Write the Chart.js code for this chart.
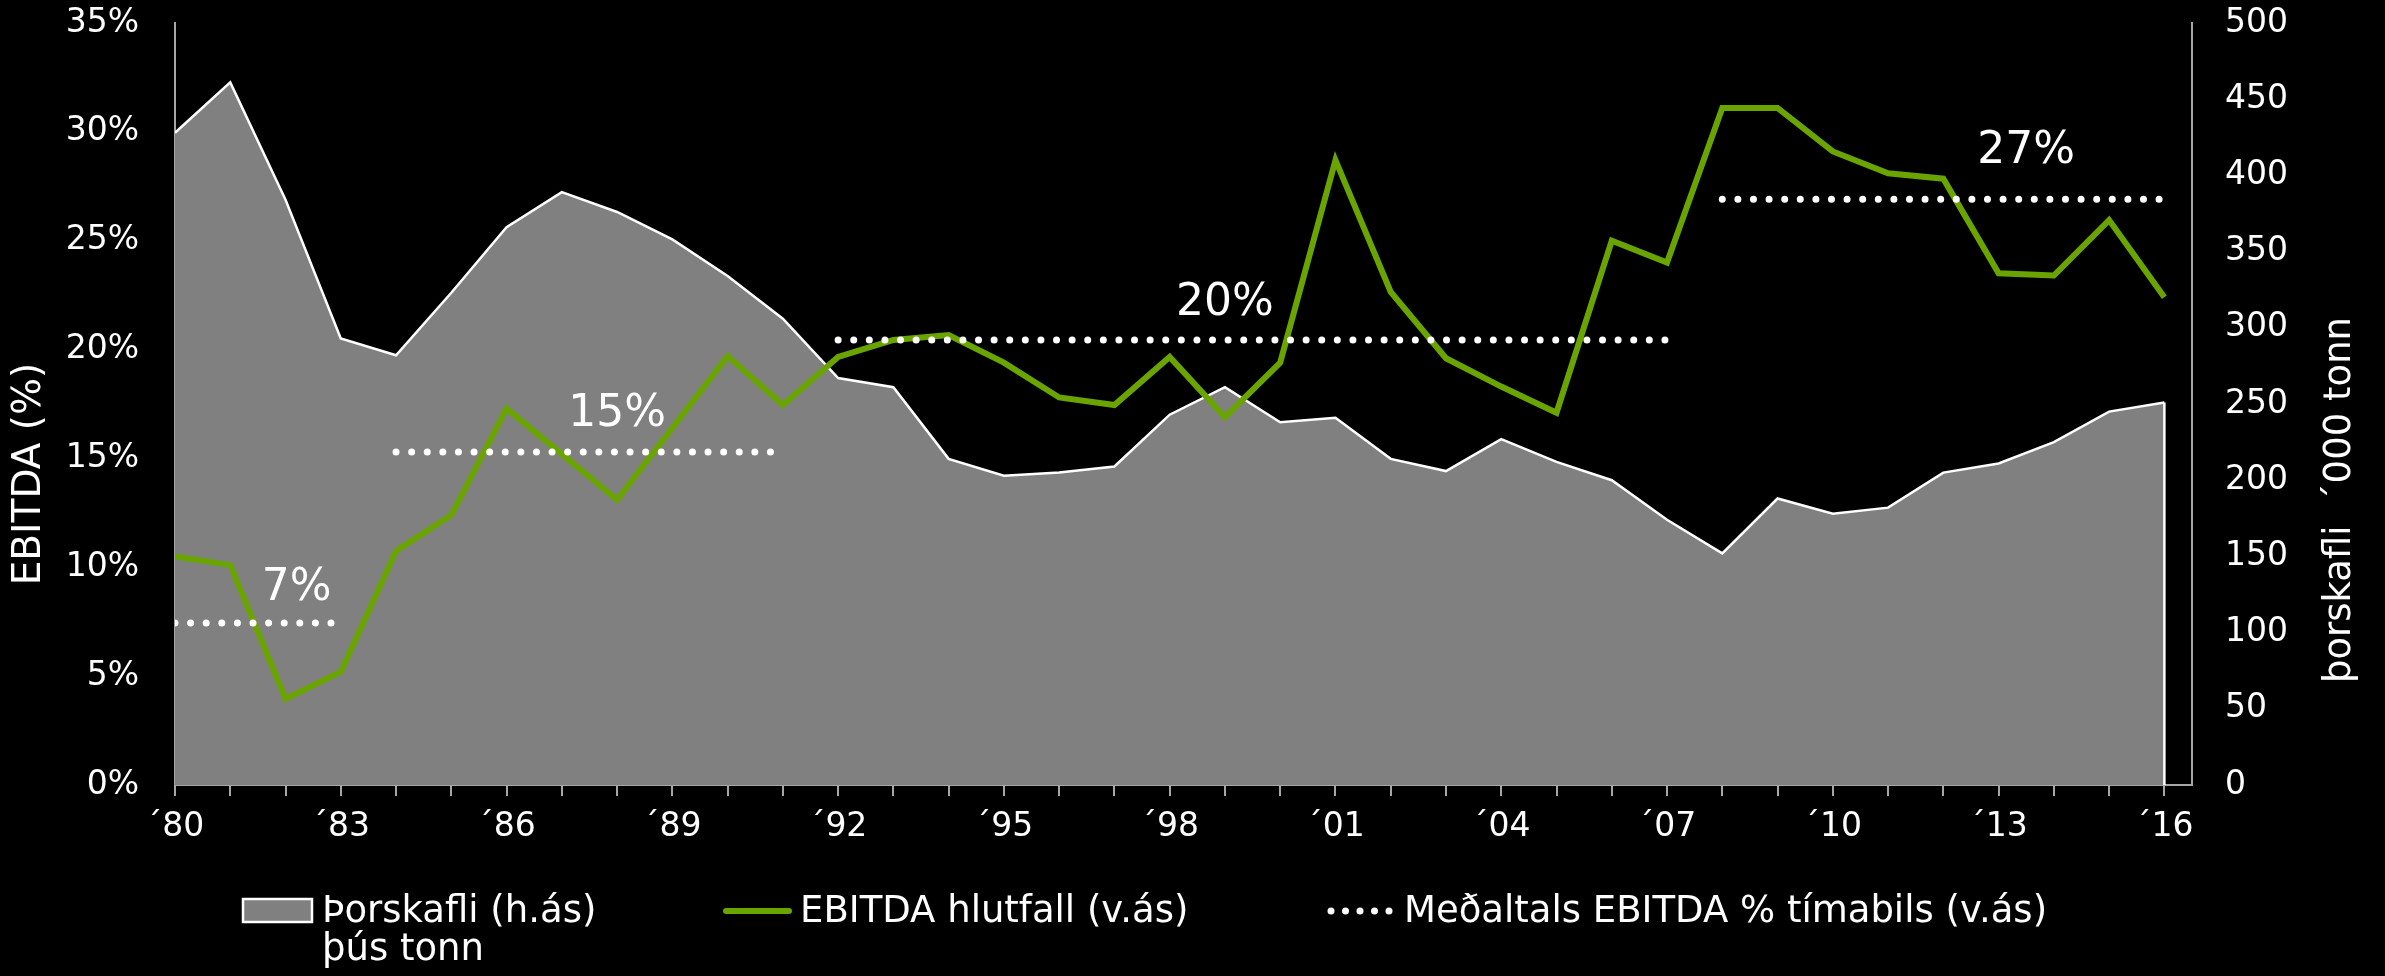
<!DOCTYPE html>
<html>
<head>
<meta charset="utf-8">
<script src="https://cdn.jsdelivr.net/npm/chart.js@4.4.0/dist/chart.umd.min.js"></script>
<style>
  html, body { margin: 0; padding: 0; background: #000; }
  #wrap { width: 2385px; height: 976px; }
</style>
</head>
<body>
<div id="wrap"><canvas id="ebitdaChart" width="2385" height="976"></canvas></div>
<script>
// data
const years = [1980, 1981, 1982, 1983, 1984, 1985, 1986, 1987, 1988, 1989,
  1990, 1991, 1992, 1993, 1994, 1995, 1996, 1997, 1998, 1999,
  2000, 2001, 2002, 2003, 2004, 2005, 2006, 2007, 2008, 2009,
  2010, 2011, 2012, 2013, 2014, 2015, 2016];

// Þorskafli, þús tonn (right axis)
const codCatch = [428, 461, 384, 293, 282, 323, 366, 389, 376, 358,
  334, 306, 267, 261, 214, 203, 205, 209, 243, 261,
  238, 241, 214, 206, 227, 212, 200, 174, 152, 188,
  178, 182, 205, 211, 225, 245, 251];

// EBITDA hlutfall, % (left axis)
const ebitda = [10.5, 10.1, 3.95, 5.2, 10.75, 12.4, 17.3, 15.2, 13.1, 16.4,
  19.7, 17.45, 19.66, 20.44, 20.67, 19.4, 17.8, 17.45, 19.66, 16.9,
  19.4, 28.7, 22.65, 19.6, 18.3, 17.1, 25.0, 24.0, 31.1, 31.1,
  29.1, 28.1, 27.85, 23.5, 23.4, 25.95, 22.4];

// Meðaltals EBITDA % tímabils
const periodStart = [1980, 1984, 1992, 2008];
const periodEnd = [1983, 1991, 2007, 2016];
const periodAvg = [7.44, 15.3, 20.44, 26.9];
const periodLabels = ['7%', '15%', '20%', '27%'];

const xTickYears = [1980, 1983, 1986, 1989, 1992, 1995, 1998, 2001, 2004, 2007, 2010, 2013, 2016];
const xTickLabels = ['´80', '´83', '´86', '´89', '´92', '´95', '´98', '´01', '´04', '´07', '´10', '´13', '´16'];

const FONT = '"DejaVu Sans", Verdana, sans-serif';
const GREEN = '#6aa400';
const GREY = '#808080';
const AXIS = '#a6a6a6';

Chart.defaults.font.family = FONT;
Chart.defaults.color = '#ffffff';

const pts = (vals) => years.map((yr, i) => ({ x: yr, y: vals[i] }));

const avgSets = periodAvg.map((v, i) => ({
  label: 'avg' + i,
  data: years.filter(yr => yr >= periodStart[i] && yr <= periodEnd[i]).map(yr => ({ x: yr, y: v })),
  yAxisID: 'y',
  borderColor: '#ffffff',
  borderWidth: 7,
  borderDash: [0, 15.6],
  borderCapStyle: 'round',
  pointRadius: 0,
  fill: false,
  order: 1
}));

// spots for the "7%" ... "27%" texts: year and lift above the dotted line (px)
const labelSpots = [
  { year: 1982.2, lift: 34 },
  { year: 1988.0, lift: 37 },
  { year: 1999.0, lift: 36 },
  { year: 2013.5, lift: 48 }
];

const extras = {
  id: 'extras',
  afterDatasetDraw(chart, args) {
    // white right edge of the area
    if (args.meta.label !== 'catch') return;
    const last = args.meta.data[args.meta.data.length - 1];
    const ctx = chart.ctx;
    ctx.save();
    ctx.strokeStyle = '#ffffff';
    ctx.lineWidth = 2.5;
    ctx.beginPath();
    ctx.moveTo(last.x, last.y);
    ctx.lineTo(last.x, chart.scales.y2.getPixelForValue(0));
    ctx.stroke();
    ctx.restore();
  },
  afterDraw(chart) {
    const { ctx, scales } = chart;
    ctx.save();
    ctx.fillStyle = '#ffffff';

    // period average labels
    ctx.font = '44px ' + FONT;
    ctx.textAlign = 'center';
    ctx.textBaseline = 'middle';
    labelSpots.forEach((s, i) => {
      ctx.fillText(periodLabels[i], scales.x.getPixelForValue(s.year),
        scales.y.getPixelForValue(periodAvg[i]) - s.lift);
    });

    // axis titles
    ctx.font = '39px ' + FONT;
    ctx.save();
    ctx.translate(30, 474);
    ctx.rotate(-Math.PI / 2);
    ctx.fillText('EBITDA (%)', 0, 0);
    ctx.restore();
    ctx.font = '37px ' + FONT;
    ctx.save();
    ctx.translate(2340, 500);
    ctx.rotate(-Math.PI / 2);
    ctx.fillText('þorskafli  ´000 tonn', 0, 0);
    ctx.restore();

    // legend
    const ly = 911;
    ctx.font = '37px ' + FONT;
    ctx.textAlign = 'left';
    ctx.textBaseline = 'alphabetic';

    ctx.fillStyle = GREY;
    ctx.fillRect(243, 899, 69, 23);
    ctx.strokeStyle = '#ffffff';
    ctx.lineWidth = 2.5;
    ctx.strokeRect(243, 899, 69, 23);
    ctx.fillStyle = '#ffffff';
    ctx.fillText('Þorskafli (h.ás)', 322, 922);
    ctx.fillText('þús tonn', 322, 960);

    ctx.strokeStyle = GREEN;
    ctx.lineWidth = 6;
    ctx.lineCap = 'round';
    ctx.beginPath();
    ctx.moveTo(726, ly);
    ctx.lineTo(789, ly);
    ctx.stroke();
    ctx.fillText('EBITDA hlutfall (v.ás)', 800, 922);

    for (let k = 0; k < 5; k++) {
      ctx.beginPath();
      ctx.arc(1331 + k * 14.5, ly, 3.5, 0, Math.PI * 2);
      ctx.fill();
    }
    ctx.fillText('Meðaltals EBITDA % tímabils (v.ás)', 1404, 922);
    ctx.restore();
  }
};

new Chart(document.getElementById('ebitdaChart').getContext('2d'), {
  type: 'line',
  data: {
    datasets: [
      ...avgSets,
      {
        label: 'ebitda',
        data: pts(ebitda),
        yAxisID: 'y',
        borderColor: GREEN,
        borderWidth: 6,
        borderJoinStyle: 'miter',
        pointRadius: 0,
        fill: false,
        order: 2
      },
      {
        label: 'catch',
        data: pts(codCatch),
        yAxisID: 'y2',
        borderColor: '#ffffff',
        borderWidth: 2.5,
        backgroundColor: GREY,
        pointRadius: 0,
        fill: 'origin',
        order: 3
      }
    ]
  },
  options: {
    responsive: false,
    animation: false,
    devicePixelRatio: 1,
    layout: { padding: 0 },
    plugins: { legend: { display: false }, tooltip: { enabled: false } },
    scales: {
      x: {
        type: 'linear',
        min: 1980,
        max: 2016.5,
        afterFit(s) { s.height = 191; },
        border: { color: AXIS, width: 2 },
        grid: { drawOnChartArea: false, drawTicks: true, tickLength: 11, color: AXIS, lineWidth: 2 },
        ticks: {
          stepSize: 1,
          includeBounds: false,
          autoSkip: false,
          maxRotation: 0,
          padding: 12,
          font: { size: 33 },
          color: '#ffffff',
          callback: (v) => {
            const k = xTickYears.indexOf(v);
            return k >= 0 ? xTickLabels[k] : '';
          }
        }
      },
      y: {
        position: 'left',
        min: 0,
        max: 35,
        afterFit(s) { s.width = 175; s.paddingTop = 23; },
        border: { color: AXIS, width: 2 },
        grid: { drawOnChartArea: false, drawTicks: false },
        ticks: { stepSize: 5, padding: 36, font: { size: 33 }, color: '#ffffff', callback: (v) => v + '%' }
      },
      y2: {
        position: 'right',
        min: 0,
        max: 500,
        afterFit(s) { s.width = 193; s.paddingTop = 23; },
        border: { color: AXIS, width: 2 },
        grid: { drawOnChartArea: false, drawTicks: false },
        ticks: { stepSize: 50, padding: 33, font: { size: 33 }, color: '#ffffff' }
      }
    }
  },
  plugins: [extras]
});
</script>
</body>
</html>
